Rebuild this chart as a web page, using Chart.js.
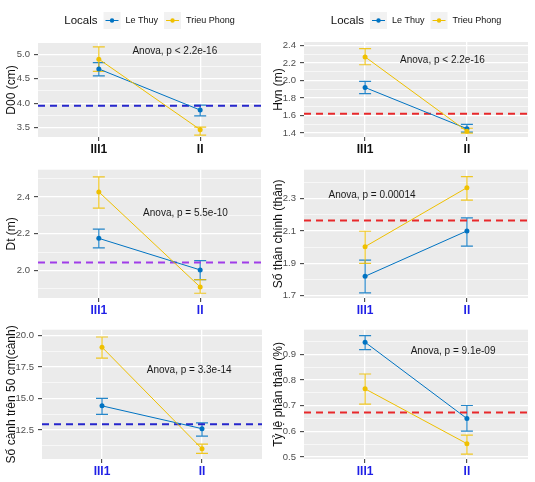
<!DOCTYPE html>
<html>
<head>
<meta charset="utf-8">
<script src="https://cdn.jsdelivr.net/npm/chart.js@4.4.1/dist/chart.umd.min.js"></script>
<style>
  html, body { margin: 0; padding: 0; background: #ffffff; }
  body { width: 535px; height: 482px; position: relative; overflow: hidden; }
  .panel { position: absolute; }
  .panel canvas { display: block; }
</style>
</head>
<body>
<div class="panel" style="left:0px;top:0px;width:267px;height:160px"><canvas id="c1"></canvas></div>
<div class="panel" style="left:267px;top:0px;width:268px;height:160px"><canvas id="c2"></canvas></div>
<div class="panel" style="left:0px;top:160px;width:267px;height:160px"><canvas id="c3"></canvas></div>
<div class="panel" style="left:267px;top:160px;width:268px;height:160px"><canvas id="c4"></canvas></div>
<div class="panel" style="left:0px;top:320px;width:267px;height:162px"><canvas id="c5"></canvas></div>
<div class="panel" style="left:267px;top:320px;width:268px;height:162px"><canvas id="c6"></canvas></div>
<script>
// ---------------- DATA ----------------
const categories = ['III1', 'II'];
const seriesNames = ['Le Thuy', 'Trieu Phong'];
const legendTitle = 'Locals';

// D00 (cm)
const d00LeThuy      = [4.70, 3.86];
const d00LeThuyLo    = [4.56, 3.74];
const d00LeThuyHi    = [4.83, 3.96];
const d00TrieuPhong   = [4.90, 3.46];
const d00TrieuPhongLo = [4.65, 3.35];
const d00TrieuPhongHi = [5.15, 3.51];
const d00Mean = 3.95;
const d00Ticks = [3.5, 4.0, 4.5, 5.0];
const d00Test = 'Anova, p < 2.2e-16';

// Hvn (m)
const hvnLeThuy      = [1.92, 1.45];
const hvnLeThuyLo    = [1.85, 1.41];
const hvnLeThuyHi    = [1.99, 1.50];
const hvnTrieuPhong   = [2.27, 1.42];
const hvnTrieuPhongLo = [2.18, 1.40];
const hvnTrieuPhongHi = [2.365, 1.455];
const hvnMean = 1.62;
const hvnTicks = [1.4, 1.6, 1.8, 2.0, 2.2, 2.4];
const hvnTest = 'Anova, p < 2.2e-16';

// Dt (m)
const dtLeThuy      = [2.175, 2.003];
const dtLeThuyLo    = [2.123, 1.95];
const dtLeThuyHi    = [2.225, 2.054];
const dtTrieuPhong   = [2.428, 1.91];
const dtTrieuPhongLo = [2.34, 1.876];
const dtTrieuPhongHi = [2.51, 1.95];
const dtMean = 2.044;
const dtTicks = [2.0, 2.2, 2.4];
const dtTest = 'Anova, p = 5.5e-10';

// Số thân chính (thân)
const stcLeThuy      = [1.82, 2.10];
const stcLeThuyLo    = [1.718, 2.006];
const stcLeThuyHi    = [1.92, 2.18];
const stcTrieuPhong   = [2.003, 2.367];
const stcTrieuPhongLo = [1.90, 2.29];
const stcTrieuPhongHi = [2.098, 2.435];
const stcMean = 2.165;
const stcTicks = [1.7, 1.9, 2.1, 2.3];
const stcTest = 'Anova, p = 0.00014';

// Số cành trên 50 cm (cành)
const scLeThuy      = [14.41, 12.6];
const scLeThuyLo    = [13.73, 12.01];
const scLeThuyHi    = [15.0, 13.06];
const scTrieuPhong   = [19.07, 11.0];
const scTrieuPhongLo = [18.2, 10.63];
const scTrieuPhongHi = [19.88, 11.37];
const scMean = 12.96;
const scTicks = [12.5, 15.0, 17.5, 20.0];
const scTest = 'Anova, p = 3.3e-14';

// Tỷ lệ phân thân (%)
const tlLeThuy      = [0.948, 0.650];
const tlLeThuyLo    = [0.919, 0.601];
const tlLeThuyHi    = [0.974, 0.701];
const tlTrieuPhong   = [0.766, 0.552];
const tlTrieuPhongLo = [0.706, 0.511];
const tlTrieuPhongHi = [0.824, 0.585];
const tlMean = 0.674;
const tlTicks = [0.5, 0.6, 0.7, 0.8, 0.9];
const tlTest = 'Anova, p = 9.1e-09';

// ---------------- STYLE ----------------
const FONT = "'Liberation Sans', Arial, Helvetica, sans-serif";
const BLUE = '#0073C2';
const YELLOW = '#EFC000';
const PANEL_BG = '#EBEBEB';

const panels = [
  { id: 'c1', title: 'D00 (cm)', lt: [d00LeThuy, d00LeThuyLo, d00LeThuyHi], tp: [d00TrieuPhong, d00TrieuPhongLo, d00TrieuPhongHi],
    mean: d00Mean, meanColor: '#2626cc', ticks: d00Ticks, min: 3.31, max: 5.23, test: d00Test, testAt: [1.75, 5.07],
    padTop: 43, padRight: 6, xH: 23, yW: 38, xColor: '#111111', legend: true },
  { id: 'c2', title: 'Hvn (m)', lt: [hvnLeThuy, hvnLeThuyLo, hvnLeThuyHi], tp: [hvnTrieuPhong, hvnTrieuPhongLo, hvnTrieuPhongHi],
    mean: hvnMean, meanColor: '#e8282b', ticks: hvnTicks, min: 1.355, max: 2.44, test: hvnTest, testAt: [1.76, 2.235],
    padTop: 42, padRight: 7, xH: 23, yW: 37, xColor: '#111111', legend: true },
  { id: 'c3', title: 'Dt (m)', lt: [dtLeThuy, dtLeThuyLo, dtLeThuyHi], tp: [dtTrieuPhong, dtTrieuPhongLo, dtTrieuPhongHi],
    mean: dtMean, meanColor: '#a03ce8', ticks: dtTicks, min: 1.85, max: 2.549, test: dtTest, testAt: [1.855, 2.312],
    padTop: 5, padRight: 6, xH: 22, yW: 38, xColor: '#1f1fe6', legend: false },
  { id: 'c4', title: 'Số thân chính (thân)', lt: [stcLeThuy, stcLeThuyLo, stcLeThuyHi], tp: [stcTrieuPhong, stcTrieuPhongLo, stcTrieuPhongHi],
    mean: stcMean, meanColor: '#e8282b', ticks: stcTicks, min: 1.686, max: 2.478, test: stcTest, testAt: [1.068, 2.32],
    padTop: 5, padRight: 7, xH: 22, yW: 37, xColor: '#1f1fe6', legend: false },
  { id: 'c5', title: 'Số cành trên 50 cm(cành)', lt: [scLeThuy, scLeThuyLo, scLeThuyHi], tp: [scTrieuPhong, scTrieuPhongLo, scTrieuPhongHi],
    mean: scMean, meanColor: '#2626cc', ticks: scTicks, min: 10.19, max: 20.46, test: scTest, testAt: [1.872, 17.27],
    padTop: 6, padRight: 5, xH: 23, yW: 42, xColor: '#1f1fe6', legend: false },
  { id: 'c6', title: 'Tỷ lệ phân thân (%)', lt: [tlLeThuy, tlLeThuyLo, tlLeThuyHi], tp: [tlTrieuPhong, tlTrieuPhongLo, tlTrieuPhongHi],
    mean: tlMean, meanColor: '#e8282b', ticks: tlTicks, min: 0.492, max: 0.997, test: tlTest, testAt: [1.864, 0.913],
    padTop: 6, padRight: 7, xH: 23, yW: 37, xColor: '#1f1fe6', legend: false }
];

// ---------------- PLUGINS ----------------
const bgPlugin = {
  id: 'panelBg',
  beforeDraw(chart) {
    const { ctx, chartArea: a } = chart;
    ctx.save();
    ctx.fillStyle = PANEL_BG;
    ctx.fillRect(a.left, a.top, a.right - a.left, a.bottom - a.top);
    ctx.restore();
  }
};

const errPlugin = {
  id: 'errBars',
  beforeDatasetsDraw(chart) {
    const { ctx, scales: { x, y } } = chart;
    ctx.save();
    chart.data.datasets.forEach(ds => {
      if (!ds.lo) return;
      ctx.strokeStyle = ds.borderColor;
      ctx.globalAlpha = 0.85;
      ctx.lineWidth = 1.2;
      ds.data.forEach((pt, i) => {
        const px = x.getPixelForValue(pt.x);
        const y1 = y.getPixelForValue(ds.lo[i]);
        const y2 = y.getPixelForValue(ds.hi[i]);
        ctx.beginPath();
        ctx.moveTo(px, y1); ctx.lineTo(px, y2);
        ctx.moveTo(px - 6, y1); ctx.lineTo(px + 6, y1);
        ctx.moveTo(px - 6, y2); ctx.lineTo(px + 6, y2);
        ctx.stroke();
      });
    });
    ctx.restore();
  }
};

const annPlugin = {
  id: 'anova',
  afterDatasetsDraw(chart, args, opts) {
    const { ctx, scales: { x, y } } = chart;
    ctx.save();
    ctx.font = '10px ' + FONT;
    ctx.fillStyle = '#1a1a1a';
    ctx.textAlign = 'center';
    ctx.textBaseline = 'middle';
    ctx.fillText(opts.text, x.getPixelForValue(opts.at[0]), y.getPixelForValue(opts.at[1]));
    ctx.restore();
  }
};

const legendPlugin = {
  id: 'ggLegend',
  afterDraw(chart, args, opts) {
    if (!opts.show) return;
    const { ctx, chartArea: a } = chart;
    const cy = 20.5;
    ctx.save();
    ctx.textBaseline = 'middle';
    ctx.font = '11.5px ' + FONT;
    const wTitle = ctx.measureText(legendTitle).width;
    ctx.font = '9px ' + FONT;
    const w1 = ctx.measureText(seriesNames[0]).width;
    const w2 = ctx.measureText(seriesNames[1]).width;
    const key = 17, g1 = 6, g2 = 5, g3 = 6;
    const total = wTitle + g1 + key + g2 + w1 + g3 + key + g2 + w2;
    let xx = (a.left + a.right) / 2 - total / 2;
    ctx.fillStyle = '#111';
    ctx.font = '11.5px ' + FONT;
    ctx.textAlign = 'left';
    ctx.fillText(legendTitle, xx, cy);
    xx += wTitle + g1;
    const colors = [BLUE, YELLOW];
    for (let k = 0; k < 2; k++) {
      ctx.fillStyle = '#F2F2F2';
      ctx.fillRect(xx, cy - key / 2, key, key);
      ctx.strokeStyle = colors[k];
      ctx.lineWidth = 1;
      ctx.beginPath();
      ctx.moveTo(xx + 2, cy); ctx.lineTo(xx + key - 2, cy);
      ctx.stroke();
      ctx.fillStyle = colors[k];
      ctx.beginPath();
      ctx.arc(xx + key / 2, cy, 2.2, 0, Math.PI * 2);
      ctx.fill();
      xx += key + g2;
      ctx.fillStyle = '#111';
      ctx.font = '9px ' + FONT;
      ctx.fillText(seriesNames[k], xx, cy);
      xx += (k === 0 ? w1 : w2) + g3;
    }
    ctx.restore();
  }
};

// ---------------- CHARTS ----------------
function near(a, b) { return Math.abs(a - b) < 1e-6; }

function build(p) {
  const step = p.ticks[1] - p.ticks[0];
  const allTicks = [];
  for (let i = -1; i < p.ticks.length; i++) {
    const base = i < 0 ? p.ticks[0] - step : p.ticks[i];
    [base, base + step / 2].forEach(v => {
      if (v >= p.min - 1e-9 && v <= p.max + 1e-9) allTicks.push(+v.toFixed(6));
    });
  }
  const isMajor = v => p.ticks.some(t => near(t, v));
  const pts = arr => arr.map((v, i) => ({ x: i + 1, y: v }));

  new Chart(document.getElementById(p.id), {
    type: 'line',
    data: {
      datasets: [
        { label: 'mean', data: [{ x: 0.4, y: p.mean }, { x: 2.6, y: p.mean }], borderColor: p.meanColor,
          borderWidth: 2, borderDash: [7, 5], pointRadius: 0, fill: false, order: 3 },
        { label: seriesNames[0], data: pts(p.lt[0]), lo: p.lt[1], hi: p.lt[2], borderColor: BLUE, backgroundColor: BLUE,
          borderWidth: 1, pointRadius: 2.5, pointBorderWidth: 0, fill: false, order: 2 },
        { label: seriesNames[1], data: pts(p.tp[0]), lo: p.tp[1], hi: p.tp[2], borderColor: YELLOW, backgroundColor: YELLOW,
          borderWidth: 1, pointRadius: 2.5, pointBorderWidth: 0, fill: false, order: 1 }
      ]
    },
    options: {
      responsive: true,
      maintainAspectRatio: false,
      animation: false,
      events: [],
      layout: { padding: { top: p.padTop, right: p.padRight, bottom: 0, left: 0 } },
      plugins: {
        legend: { display: false },
        tooltip: { enabled: false },
        anova: { text: p.test, at: p.testAt },
        ggLegend: { show: p.legend }
      },
      scales: {
        x: {
          type: 'linear', min: 0.4, max: 2.6,
          afterBuildTicks: s => { s.ticks = [{ value: 1 }, { value: 2 }]; },
          afterFit: s => { s.height = p.xH; },
          ticks: {
            autoSkip: false, maxRotation: 0, padding: 1,
            callback: v => categories[Math.round(v) - 1] || '',
            font: { family: FONT, size: 12, weight: 'bold' },
            color: p.xColor
          },
          grid: { color: '#ffffff', lineWidth: 1.3, tickColor: '#333333', tickLength: 4, tickWidth: 1 },
          border: { display: false }
        },
        y: {
          type: 'linear', min: p.min, max: p.max,
          afterBuildTicks: s => { s.ticks = allTicks.map(v => ({ value: v })); },
          afterFit: s => { s.width = p.yW; },
          ticks: {
            autoSkip: false, padding: 4,
            callback: v => isMajor(v) ? v.toFixed(1) : '',
            font: { family: FONT, size: 9.5 },
            color: '#4D4D4D'
          },
          grid: {
            color: '#ffffff',
            lineWidth: c => (c.tick && isMajor(c.tick.value)) ? 1.3 : 0.6,
            tickColor: c => (c.tick && isMajor(c.tick.value)) ? '#333333' : 'rgba(0,0,0,0)',
            tickLength: 4, tickWidth: 1
          },
          border: { display: false },
          title: {
            display: true, text: p.title, color: '#111111',
            font: { family: FONT, size: 12 },
            padding: { top: 4, bottom: 0 }
          }
        }
      }
    },
    plugins: [bgPlugin, errPlugin, annPlugin, legendPlugin]
  });
}

panels.forEach(build);
</script>
</body>
</html>
